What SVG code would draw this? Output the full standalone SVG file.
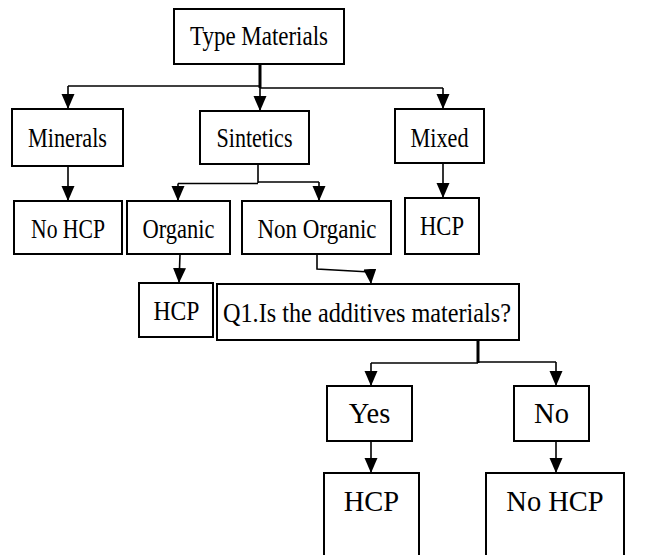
<svg xmlns="http://www.w3.org/2000/svg" width="670" height="555" viewBox="0 0 670 555">
<style>
  .box { fill: #ffffff; stroke: #000000; stroke-width: 2; }
  .t { font-family: "Liberation Serif", "Times New Roman", serif; fill: #000000; text-anchor: middle; }
  .s1 { font-size: 27px; }
  .s2 { font-size: 27px; }
  .s3 { font-size: 28.5px; }
  .c { fill: none; stroke: #000000; stroke-width: 1.6; }
  .stem { fill: none; stroke: #000000; stroke-width: 3; }
  .a { fill: none; stroke: #000000; stroke-width: 1.6; marker-end: url(#arr); }
</style>
<defs>
  <marker id="arr" markerUnits="userSpaceOnUse" markerWidth="16" markerHeight="14" refX="15" refY="6.5" orient="auto">
    <path d="M0,0 L15,6.5 L0,13 Z" fill="#000000"/>
  </marker>
</defs>
<rect width="670" height="555" fill="#ffffff"/>

<g id="connectors">
  <line class="stem" x1="260" y1="64" x2="260" y2="88"/>
  <line class="c" x1="68" y1="86" x2="260" y2="86"/>
  <line class="c" x1="260" y1="88" x2="443" y2="88"/>
  <line class="a" x1="68" y1="86" x2="68" y2="109"/>
  <line class="a" x1="260" y1="87" x2="260" y2="111"/>
  <line class="a" x1="443" y1="88" x2="443" y2="109"/>

  <line class="a" x1="68" y1="166" x2="68" y2="201"/>

  <line class="c" x1="258" y1="164" x2="258" y2="183"/>
  <line class="c" x1="178" y1="183.5" x2="258" y2="183.5"/>
  <line class="c" x1="258" y1="182" x2="319" y2="182"/>
  <line class="a" x1="178" y1="183.5" x2="178" y2="201"/>
  <line class="a" x1="319" y1="182" x2="319" y2="201"/>

  <line class="a" x1="443" y1="163" x2="443" y2="198"/>

  <line class="a" x1="180" y1="254" x2="179" y2="283"/>

  <polyline class="c" points="317,254 317,269 370,272"/>
  <line class="a" x1="370" y1="271" x2="371" y2="284"/>

  <line class="stem" x1="478" y1="340" x2="478" y2="363"/>
  <line class="c" x1="371" y1="363" x2="478" y2="363"/>
  <line class="c" x1="478" y1="362" x2="556" y2="362"/>
  <line class="a" x1="371" y1="363" x2="371" y2="386"/>
  <line class="a" x1="556" y1="362" x2="556" y2="386"/>

  <line class="a" x1="371" y1="441" x2="371" y2="473"/>
  <line class="a" x1="556" y1="441" x2="556" y2="473"/>
</g>

<g id="type-materials">
  <rect class="box" x="174" y="9" width="170" height="55"/>
  <text class="t s1" x="259" y="45" textLength="138" lengthAdjust="spacingAndGlyphs">Type Materials</text>
</g>
<g id="minerals">
  <rect class="box" x="12" y="109" width="111" height="57"/>
  <text class="t s1" x="67.5" y="147" textLength="79" lengthAdjust="spacingAndGlyphs">Minerals</text>
</g>
<g id="sintetics">
  <rect class="box" x="200" y="111" width="109" height="53"/>
  <text class="t s1" x="254.5" y="147" textLength="76" lengthAdjust="spacingAndGlyphs">Sintetics</text>
</g>
<g id="mixed">
  <rect class="box" x="395" y="109" width="89" height="54"/>
  <text class="t s1" x="439.5" y="147" textLength="58" lengthAdjust="spacingAndGlyphs">Mixed</text>
</g>
<g id="no-hcp-1">
  <rect class="box" x="14" y="201" width="108" height="53"/>
  <text class="t s1" x="68" y="238" textLength="74" lengthAdjust="spacingAndGlyphs">No HCP</text>
</g>
<g id="organic">
  <rect class="box" x="127" y="201" width="103" height="53"/>
  <text class="t s1" x="178.5" y="238" textLength="72" lengthAdjust="spacingAndGlyphs">Organic</text>
</g>
<g id="non-organic">
  <rect class="box" x="242" y="201" width="149" height="53"/>
  <text class="t s1" x="317" y="238" textLength="119" lengthAdjust="spacingAndGlyphs">Non Organic</text>
</g>
<g id="hcp-mixed">
  <rect class="box" x="405" y="198" width="74" height="56"/>
  <text class="t s1" x="442" y="235" textLength="44" lengthAdjust="spacingAndGlyphs">HCP</text>
</g>
<g id="hcp-organic">
  <rect class="box" x="139" y="283" width="74" height="54"/>
  <text class="t s2" x="176.5" y="320" textLength="46" lengthAdjust="spacingAndGlyphs">HCP</text>
</g>
<g id="q1">
  <rect class="box" x="217" y="284" width="302" height="56"/>
  <text class="t s2" x="367" y="322" textLength="288" lengthAdjust="spacingAndGlyphs">Q1.Is the additives materials?</text>
</g>
<g id="yes">
  <rect class="box" x="327" y="386" width="85" height="55"/>
  <text class="t s3" x="369.5" y="423">Yes</text>
</g>
<g id="no">
  <rect class="box" x="514" y="386" width="75" height="55"/>
  <text class="t s3" x="551.5" y="423">No</text>
</g>
<g id="hcp-yes">
  <rect class="box" x="324" y="473" width="95" height="95"/>
  <text class="t s3" x="371.5" y="511">HCP</text>
</g>
<g id="no-hcp-2">
  <rect class="box" x="486" y="473" width="138" height="95"/>
  <text class="t s3" x="555" y="511">No HCP</text>
</g>
</svg>
